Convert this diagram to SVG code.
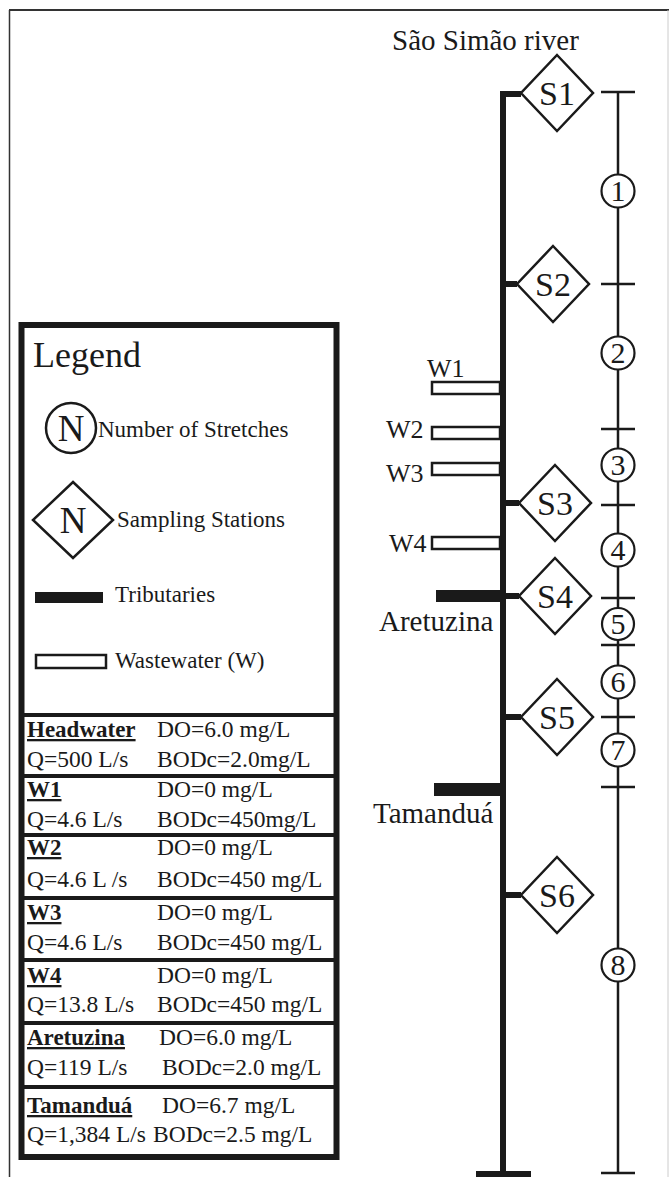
<svg xmlns="http://www.w3.org/2000/svg" width="670" height="1177" viewBox="0 0 670 1177">
<style>
  text { font-family: "Liberation Serif", "Times New Roman", serif; fill: #1a1a1a; }
  .lbl { font-size: 29px; }
  .st { font-size: 34px; text-anchor: middle; }
  .num { font-size: 30px; text-anchor: middle; }
  .tbl { font-size: 23.5px; }
  .hd { font-size: 23px; font-weight: bold; text-decoration: underline; }
  .leg { font-size: 23px; }
  .dia { fill: #fff; stroke: #1a1a1a; stroke-width: 2.5; }
  .circ { fill: #fff; stroke: #1a1a1a; stroke-width: 2.2; }
  .thick { stroke: #1a1a1a; stroke-width: 6; fill: none; }
  .thin { stroke: #1a1a1a; stroke-width: 2.5; fill: none; }
  .ww { fill: #fff; stroke: #1a1a1a; stroke-width: 2.5; }
  .trib { fill: #1a1a1a; }
  .sep { stroke: #1a1a1a; stroke-width: 4; }
</style>
<rect x="0" y="0" width="670" height="1177" fill="#fff"/>
<g id="frame">
  <line x1="9" y1="10" x2="669" y2="10" stroke="#333" stroke-width="2"/>
  <line x1="9.5" y1="10" x2="9.5" y2="1177" stroke="#333" stroke-width="1.5"/>
  <line x1="668" y1="10" x2="668" y2="1177" stroke="#ccc" stroke-width="1"/>
</g>
<g id="connectors">
  <path class="thick" d="M521 94 H503 V1174"/>
  <line class="thick" x1="476" y1="1174" x2="531" y2="1174"/>
  <line class="thick" x1="503" y1="284" x2="517" y2="284"/>
  <line class="thick" x1="503" y1="503" x2="519" y2="503"/>
  <line class="thick" x1="503" y1="596" x2="519" y2="596"/>
  <line class="thick" x1="503" y1="717" x2="521" y2="717"/>
  <line class="thick" x1="503" y1="895" x2="521" y2="895"/>
  <line class="thin" x1="618" y1="92" x2="618" y2="1173"/>
  <g class="thin">
    <line x1="601" y1="92" x2="635" y2="92"/>
    <line x1="601" y1="284" x2="635" y2="284"/>
    <line x1="601" y1="429" x2="635" y2="429"/>
    <line x1="601" y1="505" x2="635" y2="505"/>
    <line x1="601" y1="598" x2="635" y2="598"/>
    <line x1="601" y1="645" x2="635" y2="645"/>
    <line x1="601" y1="717" x2="635" y2="717"/>
    <line x1="601" y1="787" x2="635" y2="787"/>
    <line x1="601" y1="1173" x2="635" y2="1173"/>
  </g>
</g>
<text class="lbl" x="392" y="50">São Simão river</text>
<g id="S1"><polygon class="dia" points="557,55 593,93 557,131 521,93"/><text class="st" x="557" y="105">S1</text></g>
<g id="S2"><polygon class="dia" points="553,246 589,284 553,322 517,284"/><text class="st" x="553" y="296">S2</text></g>
<g id="S3"><polygon class="dia" points="555,465 591,503 555,541 519,503"/><text class="st" x="555" y="515">S3</text></g>
<g id="S4"><polygon class="dia" points="555,558 591,596 555,634 519,596"/><text class="st" x="555" y="608">S4</text></g>
<g id="S5"><polygon class="dia" points="557,679 593,717 557,755 521,717"/><text class="st" x="557" y="729">S5</text></g>
<g id="S6"><polygon class="dia" points="557,857 593,895 557,933 521,895"/><text class="st" x="557" y="907">S6</text></g>
<g id="n1"><circle class="circ" cx="618" cy="191" r="16.5"/><text class="num" x="618" y="201">1</text></g>
<g id="n2"><circle class="circ" cx="618" cy="353" r="16.5"/><text class="num" x="618" y="363">2</text></g>
<g id="n3"><circle class="circ" cx="618" cy="465" r="16.5"/><text class="num" x="618" y="475">3</text></g>
<g id="n4"><circle class="circ" cx="618" cy="550" r="16.5"/><text class="num" x="618" y="560">4</text></g>
<g id="n5"><circle class="circ" cx="618" cy="624" r="16"/><text class="num" x="618" y="634">5</text></g>
<g id="n6"><circle class="circ" cx="618" cy="682" r="16.5"/><text class="num" x="618" y="692">6</text></g>
<g id="n7"><circle class="circ" cx="618" cy="750" r="16.5"/><text class="num" x="618" y="760">7</text></g>
<g id="n8"><circle class="circ" cx="618" cy="965" r="16.5"/><text class="num" x="618" y="975">8</text></g>
<g id="W1"><rect class="ww" x="432" y="382" width="68" height="12"/><text class="lbl" x="427" y="377" style="font-size:26px">W1</text></g>
<g id="W2"><rect class="ww" x="432" y="427" width="68" height="12"/><text class="lbl" x="386" y="438" style="font-size:26px">W2</text></g>
<g id="W3"><rect class="ww" x="432" y="463" width="68" height="12"/><text class="lbl" x="386" y="482" style="font-size:26px">W3</text></g>
<g id="W4"><rect class="ww" x="432" y="537" width="68" height="12"/><text class="lbl" x="389" y="552" style="font-size:26px">W4</text></g>
<g id="Aretuzina"><rect class="trib" x="436" y="590" width="67" height="12"/><text class="lbl" x="379" y="631">Aretuzina</text></g>
<g id="Tamandua"><rect class="trib" x="434" y="783" width="69" height="13"/><text class="lbl" x="373" y="823">Tamanduá</text></g>
<g id="legend">
  <rect x="21.5" y="325" width="315" height="832" fill="#fff" stroke="#1a1a1a" stroke-width="6"/>
  <text x="33" y="367" style="font-size:36px">Legend</text>
  <circle cx="71" cy="428" r="25" fill="#fff" stroke="#1a1a1a" stroke-width="2.5"/>
  <text x="71" y="441" style="font-size:37px" text-anchor="middle">N</text>
  <text class="leg" x="98" y="437">Number of Stretches</text>
  <polygon class="dia" points="73,482 113,520 73,558 33,520"/>
  <text x="73" y="533" style="font-size:37px" text-anchor="middle">N</text>
  <text class="leg" x="117" y="527">Sampling Stations</text>
  <rect class="trib" x="35" y="592" width="68" height="11"/>
  <text class="leg" x="115" y="602">Tributaries</text>
  <rect class="ww" x="36" y="655" width="70" height="13"/>
  <text class="leg" x="115" y="668">Wastewater (W)</text>
  <g class="sep">
    <line x1="21.5" y1="715" x2="336.5" y2="715"/>
    <line x1="21.5" y1="776" x2="336.5" y2="776"/>
    <line x1="21.5" y1="835" x2="336.5" y2="835"/>
    <line x1="21.5" y1="898" x2="336.5" y2="898"/>
    <line x1="21.5" y1="960" x2="336.5" y2="960"/>
    <line x1="21.5" y1="1023" x2="336.5" y2="1023"/>
    <line x1="21.5" y1="1087" x2="336.5" y2="1087"/>
  </g>
  <text class="hd" x="27" y="737">Headwater</text>
  <text class="tbl" x="157" y="737">DO=6.0 mg/L</text>
  <text class="tbl" x="27" y="767">Q=500 L/s</text>
  <text class="tbl" x="157" y="767">BODc=2.0mg/L</text>
  <text class="hd" x="27" y="797">W1</text>
  <text class="tbl" x="157" y="797">DO=0 mg/L</text>
  <text class="tbl" x="27" y="827">Q=4.6 L/s</text>
  <text class="tbl" x="157" y="827">BODc=450mg/L</text>
  <text class="hd" x="27" y="855">W2</text>
  <text class="tbl" x="157" y="855">DO=0 mg/L</text>
  <text class="tbl" x="27" y="887">Q=4.6 L /s</text>
  <text class="tbl" x="157" y="887">BODc=450 mg/L</text>
  <text class="hd" x="27" y="920">W3</text>
  <text class="tbl" x="157" y="920">DO=0 mg/L</text>
  <text class="tbl" x="27" y="950">Q=4.6 L/s</text>
  <text class="tbl" x="157" y="950">BODc=450 mg/L</text>
  <text class="hd" x="27" y="983">W4</text>
  <text class="tbl" x="157" y="983">DO=0 mg/L</text>
  <text class="tbl" x="27" y="1012">Q=13.8 L/s</text>
  <text class="tbl" x="157" y="1012">BODc=450 mg/L</text>
  <text class="hd" x="27" y="1045">Aretuzina</text>
  <text class="tbl" x="159" y="1045">DO=6.0 mg/L</text>
  <text class="tbl" x="27" y="1075">Q=119 L/s</text>
  <text class="tbl" x="162" y="1075">BODc=2.0 mg/L</text>
  <text class="hd" x="27" y="1113">Tamanduá</text>
  <text class="tbl" x="162" y="1113">DO=6.7 mg/L</text>
  <text class="tbl" x="27" y="1142">Q=1,384 L/s</text>
  <text class="tbl" x="153" y="1142">BODc=2.5 mg/L</text>
</g>
</svg>
